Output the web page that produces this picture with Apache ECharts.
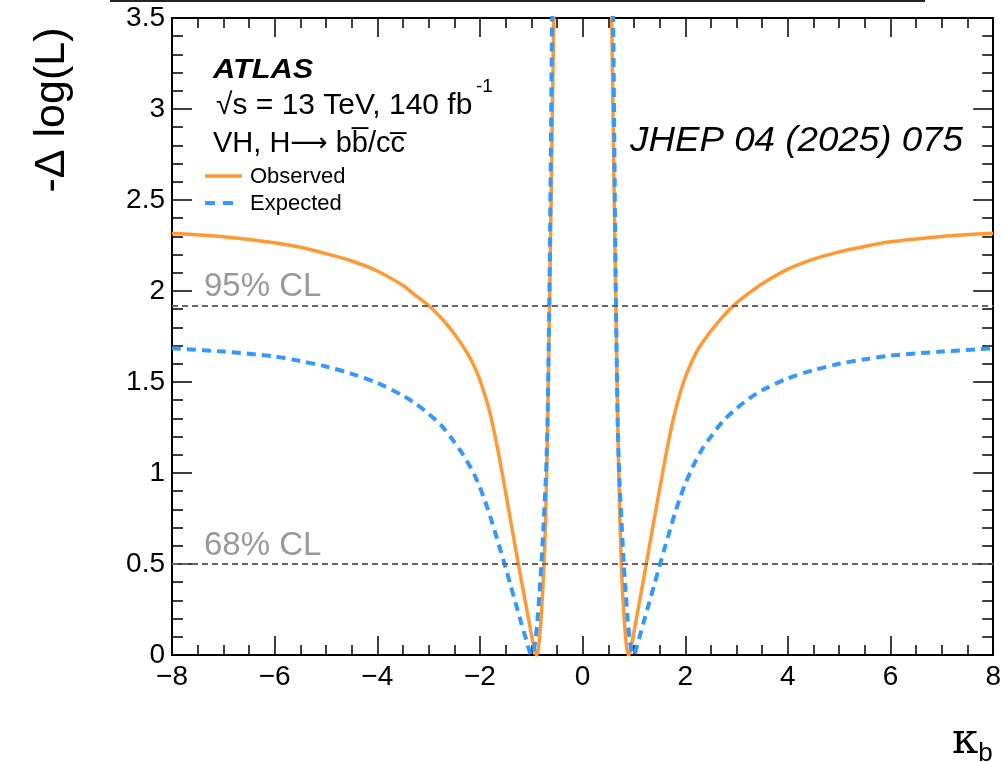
<!DOCTYPE html>
<html><head><meta charset="utf-8">
<script src="https://cdn.jsdelivr.net/npm/echarts@6/dist/echarts.min.js"></script>
<style>html,body{margin:0;padding:0;background:#fff}#c{width:1004px;height:762px}</style>
</head><body><div id="c"></div>
<script>
// kappa_b scan, observed
const obsKappa = [-8,-7,-6,-5.5,-5,-4.5,-4,-3.5,-3.25,-3,-2.75,-2.5,-2.25,-2.1,-2,-1.9,-1.8,-1.7,-1.6,-1.5,-1.4,-1.3,-1.2,-1.1,-1,-0.95,-0.9,-0.88,-0.86,-0.84,-0.82,-0.8,-0.78,-0.76,-0.74,-0.72,-0.7,-0.68,-0.66,-0.64,-0.62,-0.6,-0.58,-0.56,-0.5,0,0.5,0.56,0.58,0.6,0.62,0.64,0.66,0.68,0.7,0.72,0.74,0.76,0.78,0.8,0.82,0.84,0.86,0.88,0.9,0.95,1,1.1,1.2,1.3,1.4,1.5,1.6,1.7,1.8,1.9,2,2.1,2.25,2.5,2.75,3,3.25,3.5,4,4.5,5,5.5,6,7,8];
const obsNLL = [2.317,2.298,2.265,2.24,2.205,2.165,2.11,2.03,1.975,1.92,1.85,1.765,1.66,1.58,1.51,1.425,1.325,1.195,1.05,0.895,0.735,0.575,0.42,0.27,0.115,0.045,0.00,0.01,0.04,0.09,0.16,0.24,0.34,0.45,0.58,0.77,1.00,1.30,1.64,2.00,2.38,2.76,3.15,3.55,4.7,null,4.8,3.62,3.22,2.82,2.44,2.06,1.70,1.36,1.06,0.82,0.62,0.46,0.34,0.24,0.16,0.09,0.04,0.01,0.00,0.05,0.125,0.28,0.435,0.595,0.755,0.91,1.065,1.21,1.335,1.44,1.525,1.595,1.68,1.78,1.865,1.935,1.99,2.04,2.12,2.175,2.215,2.245,2.27,2.30,2.317];
// kappa_b scan, expected
const expKappa = [-8,-7,-6,-5.5,-5,-4.5,-4,-3.5,-3.25,-3,-2.75,-2.5,-2.35,-2.2,-2.1,-2,-1.9,-1.8,-1.7,-1.6,-1.5,-1.4,-1.3,-1.2,-1.1,-1.05,-1,-0.96,-0.92,-0.88,-0.84,-0.8,-0.76,-0.72,-0.7,-0.68,-0.66,-0.64,-0.62,-0.6,-0.58,-0.5,0,0.5,0.58,0.6,0.62,0.64,0.66,0.68,0.7,0.72,0.76,0.8,0.84,0.88,0.92,0.96,1,1.05,1.1,1.2,1.3,1.4,1.5,1.6,1.7,1.8,1.9,2,2.1,2.2,2.35,2.5,2.75,3,3.25,3.5,4,4.5,5,5.5,6,7,8];
const expNLL = [1.685,1.667,1.64,1.615,1.585,1.545,1.495,1.425,1.38,1.325,1.26,1.17,1.11,1.04,0.985,0.92,0.845,0.76,0.67,0.575,0.48,0.38,0.28,0.18,0.085,0.035,0.00,0.02,0.08,0.19,0.34,0.51,0.72,0.95,1.10,1.33,1.72,2.15,2.75,3.35,3.95,6.0,null,6.0,3.95,3.35,2.75,2.15,1.72,1.33,1.10,0.95,0.72,0.51,0.34,0.19,0.08,0.02,0.00,0.04,0.09,0.19,0.29,0.39,0.49,0.59,0.685,0.78,0.865,0.94,1.005,1.065,1.14,1.20,1.29,1.355,1.41,1.455,1.52,1.565,1.60,1.625,1.645,1.667,1.685];
const clLevels = [1.92, 0.5];
const clLabels = ['95% CL', '68% CL'];
const seriesNames = ['Observed', 'Expected'];
const xRange = [-8, 8, 2];
const yRange = [0, 3.5, 0.5];

const FONT = '"Liberation Sans", Arial, Helvetica, sans-serif';
const OBS_COLOR = '#ff9933', EXP_COLOR = '#3399ff';
const pair = (xs, ys) => xs.map((x, i) => [x, ys[i] === null ? '-' : ys[i]]);
const fmtX = v => (v < 0 ? '\u2212' + Math.abs(v) : String(v));

function xAx(pos, labels) {
  return {
    type: 'value', position: pos, min: xRange[0], max: xRange[1], interval: xRange[2],
    axisLine: { show: true, onZero: false, lineStyle: { color: '#000', width: 2 } },
    axisTick: { show: true, inside: true, length: 19, lineStyle: { color: '#000', width: 1.5 } },
    minorTick: { show: true, splitNumber: 4, length: 10, lineStyle: { color: '#000', width: 1.5 } },
    splitLine: { show: false },
    axisLabel: { show: labels, formatter: fmtX, color: '#000', fontSize: 28, fontFamily: FONT, margin: 8 }
  };
}
function yAx(pos, labels) {
  return {
    type: 'value', position: pos, min: yRange[0], max: yRange[1], interval: yRange[2],
    axisLine: { show: true, onZero: false, lineStyle: { color: '#000', width: 2 } },
    axisTick: { show: true, inside: true, length: 20, lineStyle: { color: '#000', width: 1.5 } },
    minorTick: { show: true, splitNumber: 5, length: 11, lineStyle: { color: '#000', width: 1.5 } },
    splitLine: { show: false },
    axisLabel: { show: labels, color: '#000', fontSize: 28, fontFamily: FONT, margin: 7 }
  };
}

const chart = echarts.init(document.getElementById('c'), null, { renderer: 'canvas' });
chart.setOption({
  animation: false,
  backgroundColor: '#fff',
  grid: { left: 172, right: 10, top: 18, bottom: 107, containLabel: false },
  xAxis: [xAx('bottom', true), xAx('top', false)],
  yAxis: [yAx('left', true), yAx('right', false)],
  series: [
    {
      name: seriesNames[0], type: 'line', xAxisIndex: 0, yAxisIndex: 0,
      data: pair(obsKappa, obsNLL), symbol: 'none', showSymbol: false, connectNulls: false,
      smooth: 0.3, clip: true, z: 3,
      lineStyle: { color: OBS_COLOR, width: 3.5 }, itemStyle: { color: OBS_COLOR },
      markLine: {
        silent: true, symbol: 'none', animation: false,
        lineStyle: { color: '#666', type: [6, 4], width: 2 },
        label: {
          show: true, position: 'insideStartTop', formatter: '{b}', color: '#999',
          fontSize: 33, fontFamily: FONT, distance: [32, 2]
        },
        data: clLevels.map((v, i) => ({ yAxis: v, name: clLabels[i] }))
      }
    },
    {
      name: seriesNames[1], type: 'line', xAxisIndex: 0, yAxisIndex: 0,
      data: pair(expKappa, expNLL), symbol: 'none', showSymbol: false, connectNulls: false,
      smooth: 0.3, clip: true, z: 4,
      lineStyle: { color: EXP_COLOR, width: 4, type: [9, 6] }, itemStyle: { color: EXP_COLOR }
    }
  ],
  graphic: [
    { type: 'rect', shape: { x: 110, y: 0, width: 815, height: 2 }, style: { fill: '#222' }, silent: true },
    { type: 'text', x: 52, y: 110, rotation: Math.PI / 2,
      style: { text: '-\u0394 log(L)', font: '43px ' + FONT, fill: '#000', align: 'center', verticalAlign: 'middle' } },
    { type: 'text', x: 213, y: 70, scaleX: 1.1,
      style: { text: 'ATLAS', font: 'italic bold 28px ' + FONT, fill: '#000', verticalAlign: 'middle' } },
    { type: 'text', x: 216, y: 106,
      style: { text: '\u221As = 13 TeV, 140 fb', font: '30px ' + FONT, fill: '#000', verticalAlign: 'middle' } },
    { type: 'text', x: 476, y: 87,
      style: { text: '-1', font: '19px ' + FONT, fill: '#000', verticalAlign: 'middle' } },
    { type: 'text', x: 213, y: 144,
      style: { text: 'VH, H{a|\u27F6} bb\u0305/cc\u0305', font: '29px ' + FONT, fill: '#000', verticalAlign: 'middle',
        rich: { a: { fontFamily: '"DejaVu Sans"', fontSize: 26 } } } },
    // legend
    { type: 'line', shape: { x1: 205, y1: 176, x2: 242, y2: 176 }, style: { stroke: OBS_COLOR, lineWidth: 3.5 }, silent: true },
    { type: 'text', x: 250, y: 177, style: { text: seriesNames[0], font: '22px ' + FONT, fill: '#000', verticalAlign: 'middle' } },
    { type: 'line', shape: { x1: 205, y1: 203, x2: 234, y2: 203 }, style: { stroke: EXP_COLOR, lineWidth: 4, lineDash: [10, 8] }, silent: true },
    { type: 'text', x: 250, y: 204, style: { text: seriesNames[1], font: '22px ' + FONT, fill: '#000', verticalAlign: 'middle' } },
    { type: 'text', x: 630, y: 141, scaleX: 1.05,
      style: { text: 'JHEP 04 (2025) 075', font: 'italic 35px ' + FONT, fill: '#000', verticalAlign: 'middle' } },
    { type: 'text', x: 952, y: 742,
      style: { text: '{k|\u03BA}{s|b}', font: '40px ' + FONT, fill: '#000', verticalAlign: 'middle',
        rich: { k: { fontSize: 42, fontFamily: '"DejaVu Serif", serif' }, s: { fontSize: 26, fontFamily: FONT, padding: [24, 0, 0, 0] } } } }
  ]
});
</script>
</body></html>
